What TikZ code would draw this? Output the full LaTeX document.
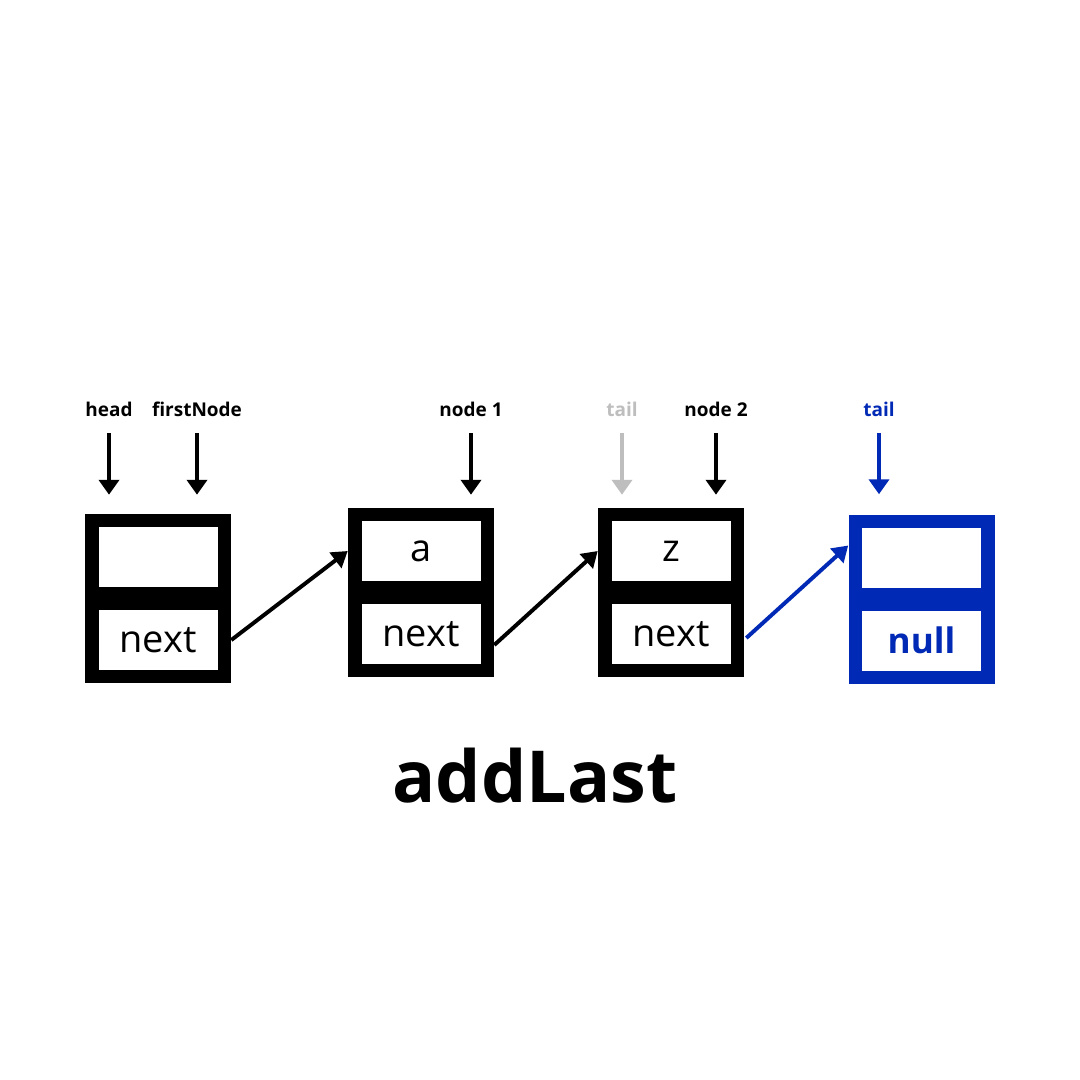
\documentclass[tikz,border=0pt]{standalone}
\usepackage{fontspec}
\setmainfont{Open Sans}
\usepackage{tikz}
\usetikzlibrary{arrows.meta,calc}
\definecolor{ListBlue}{RGB}{0,41,181}
\definecolor{ListGray}{RGB}{190,190,190}
\newlength{\pxunit}
\setlength{\pxunit}{0.025cm}

\begin{document}
\begin{tikzpicture}[x=1\pxunit,y=-1\pxunit,
   cell/.style={rectangle,fill=#1,minimum width=146\pxunit,minimum height=169\pxunit,inner sep=0pt},
   field/.style={rectangle,fill=white,minimum width=119\pxunit,minimum height=60\pxunit,inner sep=0pt,font=\fontsize{27}{30}\selectfont},
   lbl/.style={anchor=base,inner sep=0pt,text=#1,font=\bfseries\fontsize{13.5}{15}\selectfont},
   ptr/.style={draw=#1,line width=2.8pt,-{Triangle[length=10.6pt,width=14.2pt]}},
   link/.style={draw=#1,line width=2.8pt,-{Triangle[length=11pt,width=13.5pt]}}]
\fill[white] (0,0) rectangle (1080,1080);
\useasboundingbox (0,0) rectangle (1080,1080);
% list nodes
\foreach \n/\x/\y/\v in %
{1/158/598.5/{},2/421/592.5/a,3/671/592.5/z} {
   \node[cell=black] (n\n) at (\x,\y) {};
   \node[field] (n\n val) at ([yshift=41.5\pxunit]n\n.center) {\v};
   \node[field] (n\n next) at ([yshift=-41.5\pxunit]n\n.center) {next};
}
\node[cell=ListBlue] (n4) at (921.5,599) {};
\node[field] (n4val) at ([yshift=41.5\pxunit]n4.center) {};
\node[field,text=ListBlue,font=\bfseries\fontsize{25}{28}\selectfont] (n4next) at ([yshift=-41.5\pxunit]n4.center) {null};
% pointers
\foreach \name/\x/\lab/\col/\tgt/\gap in %
{head/109/head/black/n1/19,first/197/firstNode/black/n1/19,node1/471/node 1/black/n2/13,%
 oldtail/622/tail/ListGray/n3/13,node2/716/node 2/black/n3/13,tail/879/tail/ListBlue/n4/20} {
   \node[lbl=\col] (l\name) at (\x,416) {\lab};
   \draw[ptr=\col,shorten <=17\pxunit,shorten >=\gap\pxunit] (l\name.south) -- (l\name.south |- \tgt.north);
}
% links
\draw[link=black] (n1.east |- n1next) -- (n2.west |- n2val);
\draw[link=black] ($(n2.east |- n2next)+(0,11)$) -- (n3.west |- n3val);
\draw[link=ListBlue] ($(n3.east |- n3next)+(2,4)$) -- ($(n4.west |- n4val)+(0,-12)$);
\node[anchor=base,font=\bfseries\fontsize{51}{56}\selectfont] (title) at (535,802) {addLast};
\end{tikzpicture}
\end{document}
